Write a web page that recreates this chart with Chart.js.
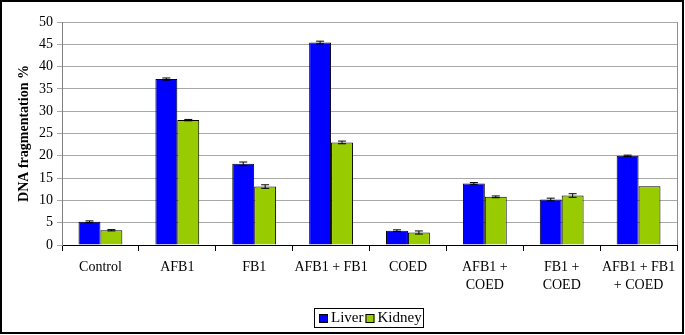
<!DOCTYPE html>
<html>
<head>
<meta charset="utf-8">
<script src="https://cdn.jsdelivr.net/npm/chart.js@4"></script>
<style>
html,body{margin:0;padding:0;background:#fff;}
#wrap{position:relative;width:685px;height:335px;}
</style>
</head>
<body>
<div id="wrap"><canvas id="c" width="685" height="335"></canvas></div>
<script>
const categories = [
  "Control", "AFB1", "FB1", "AFB1 + FB1", "COED",
  ["AFB1 +", "COED"], ["FB1 +", "COED"], ["AFB1 + FB1", "+ COED"]
];
const liverValues  = [5.2, 37.2, 18.2, 45.4, 3.2, 13.8, 10.2, 20.0];
const kidneyValues = [3.3, 28.0, 13.1, 23.0, 2.8, 10.8, 11.1, 13.2];
const liverErrors  = [0.2, 0.25, 0.4, 0.3, 0.2, 0.2, 0.3, 0.15];
const kidneyErrors = [0.15, 0.15, 0.4, 0.3, 0.35, 0.2, 0.4, 0.0];
const seriesNames = ["Liver", "Kidney"];
const yTitle = "DNA fragmentation %";

const serif = "'Liberation Serif', 'Times New Roman', serif";

const errorBars = {
  id: 'errorBars',
  afterDatasetsDraw(chart) {
    const ctx = chart.ctx;
    const y = chart.scales.y;
    chart.data.datasets.forEach((ds, di) => {
      const meta = chart.getDatasetMeta(di);
      meta.data.forEach((bar, i) => {
        const e = ds.errors[i];
        if (!e) return;
        const v = ds.data[i];
        const yTop = y.getPixelForValue(v + e);
        const yBot = y.getPixelForValue(v - e);
        const x = bar.x;
        ctx.save();
        ctx.strokeStyle = '#000';
        ctx.lineWidth = 1;
        ctx.beginPath();
        ctx.moveTo(x, yTop); ctx.lineTo(x, yBot);
        ctx.moveTo(x - 4, yTop); ctx.lineTo(x + 4, yTop);
        ctx.moveTo(x - 4, yBot); ctx.lineTo(x + 4, yBot);
        ctx.stroke();
        ctx.restore();
      });
    });
  }
};

const frame = {
  id: 'frame',
  afterDraw(chart) {
    const ctx = chart.ctx;
    const a = chart.chartArea;
    ctx.save();
    ctx.strokeStyle = '#909090';
    ctx.lineWidth = 1;
    ctx.beginPath();
    ctx.moveTo(Math.round(a.right) + 0.5, a.top);
    ctx.lineTo(Math.round(a.right) + 0.5, a.bottom);
    ctx.stroke();
    ctx.strokeStyle = '#000';
    ctx.lineWidth = 2;
    ctx.strokeRect(1, 1, 682, 332);
    const lx = 314, ly = 308, lw = 109, lh = 19;
    ctx.lineWidth = 1;
    ctx.strokeStyle = '#000';
    ctx.fillStyle = '#fff';
    ctx.fillRect(lx, ly, lw, lh);
    ctx.strokeRect(lx + 0.5, ly + 0.5, lw, lh);
    ctx.font = "15px " + serif;
    ctx.textBaseline = 'middle';
    let x = lx + 5;
    const cy = ly + lh / 2 + 1;
    chart.data.datasets.forEach((ds) => {
      ctx.fillStyle = ds.backgroundColor;
      ctx.fillRect(x, cy - 4.5, 9, 9);
      ctx.strokeStyle = '#000';
      ctx.strokeRect(x + 0.5, cy - 4.5 + 0.5, 8, 8);
      x += 12;
      ctx.fillStyle = '#000';
      ctx.fillText(ds.label, x, cy);
      x += ctx.measureText(ds.label).width + 2;
    });
    ctx.restore();
  }
};

new Chart(document.getElementById('c'), {
  type: 'bar',
  data: {
    labels: categories,
    datasets: [
      { label: seriesNames[0], data: liverValues, errors: liverErrors,
        backgroundColor: '#0000FF', borderColor: '#000', borderWidth: 1 },
      { label: seriesNames[1], data: kidneyValues, errors: kidneyErrors,
        backgroundColor: '#99CC00', borderColor: '#000', borderWidth: 1 }
    ]
  },
  options: {
    responsive: false,
    animation: false,
    layout: { padding: { top: 22, right: 8, bottom: 0, left: 0 } },
    datasets: { bar: { categoryPercentage: 0.57, barPercentage: 1.0 } },
    plugins: { legend: { display: false }, tooltip: { enabled: false } },
    scales: {
      x: {
        grid: { display: true, drawOnChartArea: false, drawTicks: true, tickLength: 6, color: '#000' },
        border: { display: true, color: '#000', width: 1 },
        ticks: { color: '#000', font: { family: serif, size: 14, lineHeight: 1.3 }, padding: 7, maxRotation: 0, autoSkip: false },
        afterFit(s) { s.height = 90; }
      },
      y: {
        min: 0, max: 50,
        grid: { color: '#a8a8a8', tickLength: 5, drawTicks: true },
        border: { display: true, color: '#808080' },
        ticks: { stepSize: 5, color: '#000', font: { family: serif, size: 14 }, padding: 4 },
        title: { display: true, text: yTitle, color: '#000',
                 font: { family: serif, size: 14, weight: 'bold' }, padding: { top: 16, bottom: 0 } },
        afterFit(s) { s.width = 62; }
      }
    }
  },
  plugins: [errorBars, frame]
});
</script>
</body>
</html>
